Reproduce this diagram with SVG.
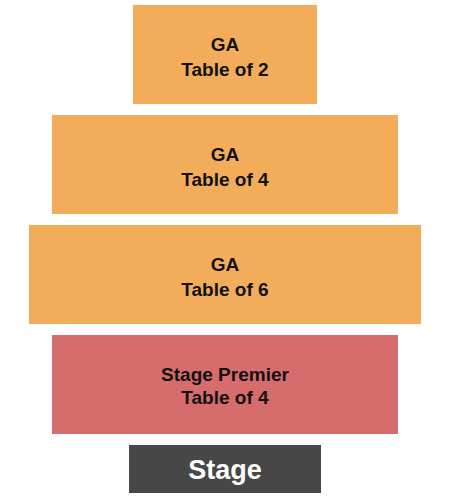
<svg xmlns="http://www.w3.org/2000/svg" width="450" height="500" viewBox="0 0 450 500">
<style>
.ga{fill:#F3AD5A}
.sp{fill:#D76C6C}
.st{fill:#474747}
.t{font-family:"Liberation Sans",Arial,sans-serif;font-weight:bold;font-size:19px;fill:#111111;text-anchor:middle}
.ts{font-family:"Liberation Sans",Arial,sans-serif;font-weight:bold;font-size:27px;fill:#ffffff;text-anchor:middle}
</style>
<rect width="450" height="500" fill="#ffffff"/>
<g id="ga2"><rect class="ga" x="133" y="5" width="184" height="99"/><text class="t" x="225" y="51">GA</text><text class="t" x="225" y="76">Table of 2</text></g>
<g id="ga4"><rect class="ga" x="52" y="115" width="346" height="99"/><text class="t" x="225" y="161">GA</text><text class="t" x="225" y="186">Table of 4</text></g>
<g id="ga6"><rect class="ga" x="29" y="225" width="392" height="99"/><text class="t" x="225" y="271">GA</text><text class="t" x="225" y="296">Table of 6</text></g>
<g id="premier"><rect class="sp" x="52" y="335" width="346" height="99"/><text class="t" x="225" y="381">Stage Premier</text><text class="t" x="225" y="404">Table of 4</text></g>
<g id="stage"><rect class="st" x="129" y="445" width="192" height="48"/><text class="ts" x="225" y="479">Stage</text></g>
<g id="connectors"></g>
</svg>
